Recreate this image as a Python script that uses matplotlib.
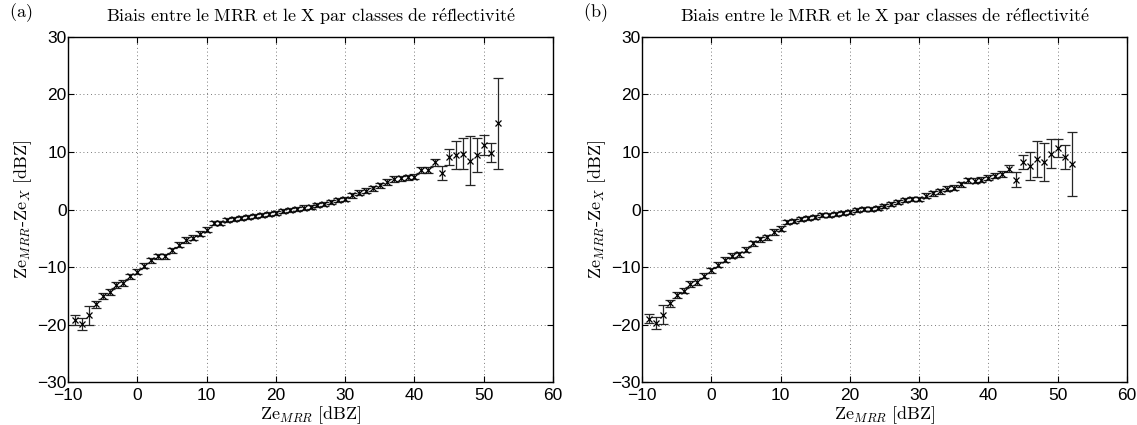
"""
Biais MRR - radar X par classes de reflectivite, deux panneaux (a) et (b).
"""
import numpy as np
import matplotlib
matplotlib.use("Agg")
import matplotlib.pyplot as plt

# ── Donnees ──────────────────────────────────────────────────────────────────
ZE_MRR = list(range(-9, 53))

BIAS_A = [
    -19.2, -19.9, -18.4, -16.5, -15.1, -14.3, -13.1, -12.8, -11.6, -10.8,
    -9.8, -8.8, -8.1, -8.1, -7.1, -6.1, -5.3, -4.9, -4.2, -3.5,
    -2.4, -2.3, -1.9, -1.7, -1.5, -1.3, -1.1, -0.9, -0.8, -0.6,
    -0.3, -0.1, 0.15, 0.35, 0.5, 0.8, 1.0, 1.3, 1.6, 1.9,
    2.5, 2.9, 3.3, 3.7, 4.2, 4.8, 5.3, 5.4, 5.6, 5.7,
    6.85, 6.85, 8.2, 6.3, 9.1, 9.5, 9.7, 8.5, 9.5, 11.2,
    9.9, 15.0,
]
ERR_A = [
    0.8, 1.05, 1.6, 0.6, 0.5, 0.5, 0.5, 0.5, 0.45, 0.45,
    0.45, 0.45, 0.45, 0.45, 0.45, 0.45, 0.45, 0.45, 0.45, 0.45,
    0.35, 0.35, 0.35, 0.35, 0.35, 0.35, 0.35, 0.35, 0.35, 0.35,
    0.35, 0.35, 0.35, 0.35, 0.35, 0.35, 0.35, 0.35, 0.35, 0.35,
    0.45, 0.45, 0.45, 0.45, 0.45, 0.45, 0.45, 0.45, 0.45, 0.45,
    0.5, 0.5, 0.6, 1.2, 1.4, 2.4, 2.7, 4.3, 2.9, 1.8,
    1.7, 7.9,
]

BIAS_B = [
    -18.95, -19.7, -18.3, -16.3, -14.8, -14.1, -12.9, -12.6, -11.5, -10.6,
    -9.6, -8.7, -8.0, -7.8, -7.0, -5.9, -5.2, -4.8, -3.9, -3.3,
    -2.2, -2.0, -1.7, -1.5, -1.3, -1.0, -0.9, -0.75, -0.6, -0.4,
    -0.1, 0.05, 0.15, 0.3, 0.6, 0.9, 1.3, 1.6, 1.8, 1.9,
    2.4, 2.8, 3.2, 3.6, 3.8, 4.4, 5.1, 5.0, 5.2, 5.5,
    5.9, 6.2, 7.1, 5.2, 8.3, 7.6, 8.8, 8.2, 9.7, 10.7,
    9.1, 7.9,
]
ERR_B = [
    0.7, 1.05, 1.65, 0.6, 0.5, 0.5, 0.5, 0.5, 0.45, 0.45,
    0.45, 0.45, 0.45, 0.45, 0.45, 0.45, 0.45, 0.45, 0.45, 0.45,
    0.35, 0.35, 0.35, 0.35, 0.35, 0.35, 0.35, 0.35, 0.35, 0.35,
    0.35, 0.35, 0.35, 0.35, 0.35, 0.35, 0.35, 0.35, 0.35, 0.35,
    0.45, 0.45, 0.45, 0.45, 0.45, 0.45, 0.45, 0.45, 0.45, 0.45,
    0.5, 0.5, 0.6, 1.3, 1.2, 2.4, 3.1, 3.3, 2.5, 1.6,
    2.1, 5.6,
]

PANELS = ["(a)", "(b)"]
TITLE = r"$\mathrm{Biais\ entre\ le\ MRR\ et\ le\ X\ par\ classes\ de\ r\acute{e}flectivit\acute{e}}$"
XLABEL = r"$\mathrm{Ze}_{MRR}\ \mathrm{[dBZ]}$"
YLABEL = r"$\mathrm{Ze}_{MRR}\mathrm{\text{-}Ze}_{X}\ \mathrm{[dBZ]}$"

XTICKS = [-10, 0, 10, 20, 30, 40, 50, 60]
YTICKS = [-30, -20, -10, 0, 10, 20, 30]

plt.rcParams["mathtext.fontset"] = "cm"
plt.rcParams["font.family"] = ["Liberation Sans", "DejaVu Sans"]


def draw_panel(ax, bias, err, label):
    ax.errorbar(ZE_MRR, bias, yerr=err, fmt="x", color="k", ecolor="0.15",
                markersize=4.5, markeredgewidth=0.9, elinewidth=0.9,
                capsize=3.3, capthick=0.9)
    ax.set_xlim(-10, 60)
    ax.set_ylim(-30, 30)
    ax.set_xticks(XTICKS)
    ax.set_yticks(YTICKS)
    ax.grid(True, color="0.3", linestyle=(0, (1, 3.5)), linewidth=0.6)
    ax.tick_params(direction="in", top=True, right=True, length=4,
                   labelsize=12.5)
    ax.tick_params(axis="x", pad=4)
    ax.tick_params(axis="y", pad=1)
    for s in ax.spines.values():
        s.set_linewidth(1.0)
    ax.set_title(TITLE, fontsize=13, pad=11)
    ax.set_xlabel(XLABEL, fontsize=13, labelpad=1)
    ax.set_ylabel(YLABEL, fontsize=13, labelpad=2)
    ax.text(-0.122, 1.07, r"$\mathrm{" + label + "}$", transform=ax.transAxes,
            fontsize=13, ha="left", va="center")


fig = plt.figure(figsize=(11.37, 4.25), dpi=100)
ax_a = fig.add_axes([0.0598, 0.101, 0.4266, 0.812])
ax_b = fig.add_axes([0.5646, 0.101, 0.4266, 0.812])

draw_panel(ax_a, BIAS_A, ERR_A, PANELS[0])
draw_panel(ax_b, BIAS_B, ERR_B, PANELS[1])

fig.savefig("out.png", dpi=100)
plt.close(fig)
